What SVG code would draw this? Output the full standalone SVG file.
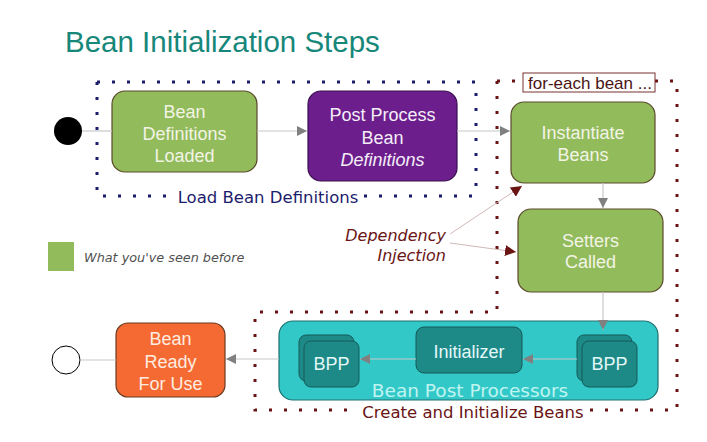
<svg xmlns="http://www.w3.org/2000/svg" width="707" height="442" viewBox="0 0 707 442">
<style>
.box{font-family:"Liberation Sans",Arial,sans-serif;font-size:18px;text-anchor:middle}
.vd{font-family:"DejaVu Sans",Verdana,sans-serif}
.line{stroke:#c8c8c8;stroke-width:1.2;fill:none}
.dline{stroke:#d0b8b8;stroke-width:1;fill:none}
</style>
<defs>
<marker id="ag" viewBox="0 0 10 10" refX="10" refY="5" markerWidth="10" markerHeight="10" markerUnits="userSpaceOnUse" orient="auto"><path d="M0,0L10,5L0,10z" fill="#808080"/></marker>
<marker id="am" viewBox="0 0 10 10" refX="10" refY="5" markerWidth="11" markerHeight="11" markerUnits="userSpaceOnUse" orient="auto"><path d="M0,0L10,5L0,10z" fill="#6a1414"/></marker>
</defs>
<rect width="707" height="442" fill="#ffffff"/>
<text x="65" y="52" font-family="Liberation Sans,Arial,sans-serif" font-size="29.5" fill="#17877a">Bean Initialization Steps</text>

<!-- containers -->
<g id="load-group">
<path d="M97,82H476V196" fill="none" stroke="#1c1c6c" stroke-width="3" stroke-dasharray="3 12"/>
<path d="M97,82V196H172" fill="none" stroke="#1c1c6c" stroke-width="3" stroke-dasharray="3 12"/>
<path d="M364,196H476" fill="none" stroke="#1c1c6c" stroke-width="3" stroke-dasharray="3 12"/>
<text x="268" y="203" class="vd" font-size="16.5" fill="#1c1c6c" text-anchor="middle">Load Bean Definitions</text>
</g>
<g id="create-group">
<path d="M497,81V312H255V410H357" fill="none" stroke="#6a1414" stroke-width="3" stroke-dasharray="3 12"/>
<path d="M590,410H677V81H655" fill="none" stroke="#6a1414" stroke-width="3" stroke-dasharray="3 12"/>
<path d="M497,81H522" fill="none" stroke="#6a1414" stroke-width="3" stroke-dasharray="3 12"/>
<text x="473" y="418" class="vd" font-size="16.5" fill="#6a1414" text-anchor="middle">Create and Initialize Beans</text>
<rect x="523" y="73" width="132" height="19" fill="#ffffff" stroke="#7a3030" stroke-width="1"/>
<text x="590" y="88.5" font-family="Liberation Sans,Arial,sans-serif" font-size="17" fill="#4a1414" text-anchor="middle">for-each bean ...</text>
</g>

<g id="start"><circle cx="68" cy="131" r="14" fill="#000000"/></g>

<g id="bean-definitions-loaded">
<rect x="112" y="91" width="145" height="81" rx="13" fill="#92bb5c" stroke="#5a4a2a" stroke-width="1.2"/>
<text class="box" fill="#f2f4e6"><tspan x="184.5" y="118">Bean</tspan><tspan x="184.5" y="140">Definitions</tspan><tspan x="184.5" y="162">Loaded</tspan></text>
</g>

<g id="post-process">
<rect x="308" y="91" width="149" height="90" rx="13" fill="#6c1e8c" stroke="#3a1050" stroke-width="1.2"/>
<text class="box" fill="#f4eef8"><tspan x="382.5" y="121">Post Process</tspan><tspan x="382.5" y="144">Bean</tspan><tspan x="382.5" y="166" font-style="italic">Definitions</tspan></text>
</g>

<g id="instantiate-beans">
<rect x="511" y="102" width="144" height="81" rx="13" fill="#92bb5c" stroke="#5a4a2a" stroke-width="1.2"/>
<text class="box" fill="#f2f4e6"><tspan x="583" y="139">Instantiate</tspan><tspan x="583" y="161">Beans</tspan></text>
</g>

<g id="setters-called">
<rect x="518" y="209" width="145" height="83" rx="13" fill="#92bb5c" stroke="#5a4a2a" stroke-width="1.2"/>
<text class="box" fill="#f2f4e6"><tspan x="590.5" y="247">Setters</tspan><tspan x="590.5" y="268">Called</tspan></text>
</g>

<g id="dependency-injection">
<text class="vd" font-size="16" font-style="italic" fill="#6a1414" text-anchor="end"><tspan x="446" y="241">Dependency</tspan><tspan x="446" y="261">Injection</tspan></text>
</g>

<g id="legend">
<rect x="48" y="242" width="26" height="29" fill="#92bb5c"/>
<text x="84" y="262" class="vd" font-size="12.8" font-style="italic" fill="#505050">What you've seen before</text>
</g>

<g id="bean-post-processors">
<rect x="279" y="321" width="379" height="79" rx="14" fill="#33c8c8" stroke="#1e7070" stroke-width="1.2"/>
<text x="470" y="397" class="vd" font-size="18.5" fill="#c0f4f0" text-anchor="middle">Bean Post Processors</text>
</g>

<g id="bpp-left">
<rect x="299" y="335" width="55" height="46" rx="7" fill="#1e8a88" stroke="#145a58" stroke-width="1"/>
<rect x="304" y="341" width="55" height="46" rx="7" fill="#1e8a88" stroke="#145a58" stroke-width="1"/>
<text class="box" x="331.5" y="370" fill="#e4f8f8">BPP</text>
</g>

<g id="initializer">
<rect x="416" y="327" width="106" height="46" rx="8" fill="#1e8a88" stroke="#145a58" stroke-width="1"/>
<text class="box" x="469" y="358" fill="#e4f8f8">Initializer</text>
</g>

<g id="bpp-right">
<rect x="577" y="335" width="55" height="46" rx="7" fill="#1e8a88" stroke="#145a58" stroke-width="1"/>
<rect x="582" y="341" width="55" height="46" rx="7" fill="#1e8a88" stroke="#145a58" stroke-width="1"/>
<text class="box" x="609.5" y="370" fill="#e4f8f8">BPP</text>
</g>

<g id="bean-ready">
<rect x="116" y="323" width="109" height="74" rx="12" fill="#f56a32" stroke="#6a3a20" stroke-width="1.2"/>
<text class="box" fill="#fdece0"><tspan x="170.5" y="345">Bean</tspan><tspan x="170.5" y="368">Ready</tspan><tspan x="170.5" y="390">For Use</tspan></text>
</g>

<g id="end"><circle cx="66" cy="360" r="14" fill="#ffffff" stroke="#000000" stroke-width="1"/></g>

<!-- connectors -->
<g id="connectors">
<line class="line" x1="82" y1="131" x2="112" y2="131"/>
<line class="line" x1="257" y1="131" x2="307" y2="131" marker-end="url(#ag)"/>
<line class="line" x1="457" y1="131" x2="510" y2="131" marker-end="url(#ag)"/>
<line class="line" x1="603" y1="183" x2="603" y2="208" marker-end="url(#ag)"/>
<line class="line" x1="603" y1="292" x2="603" y2="330" marker-end="url(#ag)"/>
<line class="dline" x1="450" y1="234" x2="522" y2="186" marker-end="url(#am)"/>
<line class="dline" x1="450" y1="243" x2="516" y2="252" marker-end="url(#am)"/>
<line class="line" x1="577" y1="359" x2="523" y2="359" marker-end="url(#ag)"/>
<line class="line" x1="416" y1="359" x2="360" y2="359" marker-end="url(#ag)"/>
<line class="line" x1="279" y1="359" x2="226" y2="359" marker-end="url(#ag)"/>
<line class="line" x1="80" y1="360" x2="116" y2="360"/>
</g>
</svg>
